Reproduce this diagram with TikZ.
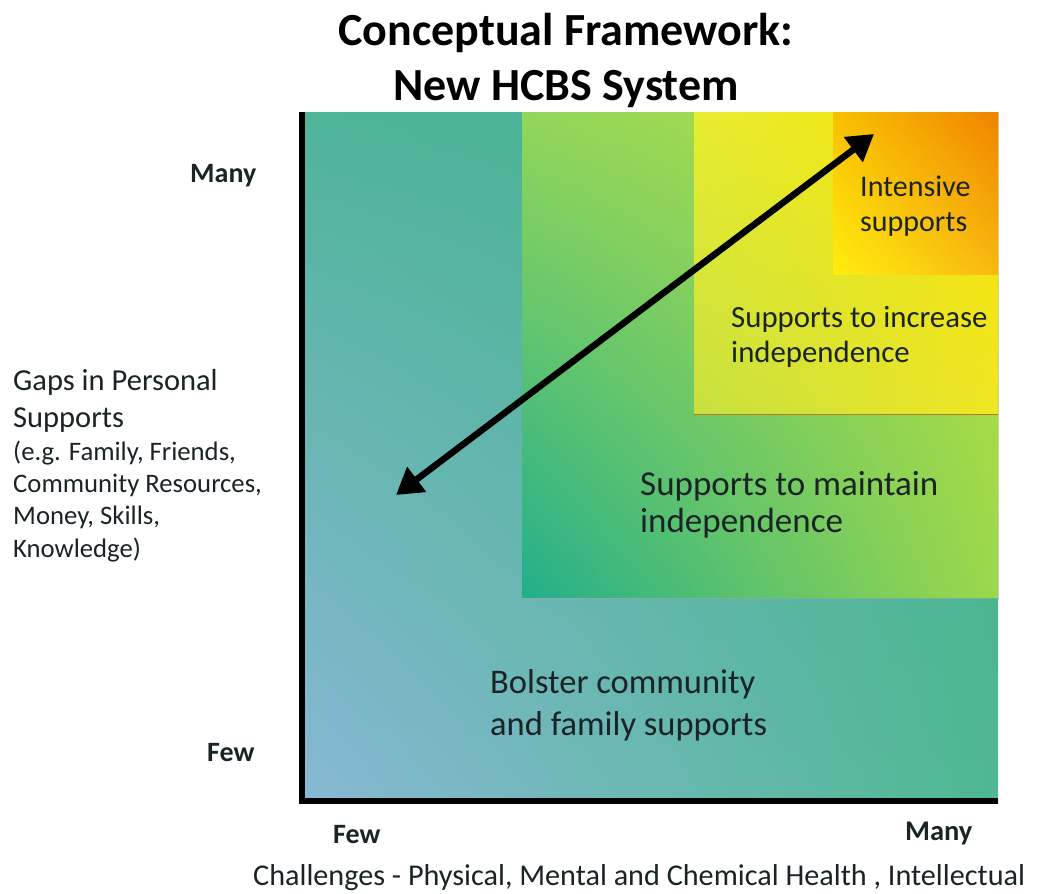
\documentclass[tikz,border=0pt]{standalone}
\usepackage{fontspec}
\setmainfont{Carlito}
\usetikzlibrary{arrows.meta,shadings}
\definecolor{txt}{HTML}{1A2326}
\definecolor{oUL}{HTML}{4FB49A}
\definecolor{oUR}{HTML}{45B08E}
\definecolor{oLL}{HTML}{88B8D4}
\definecolor{oLR}{HTML}{4EB892}
\definecolor{gUL}{HTML}{92D65A}
\definecolor{gUR}{HTML}{B8E040}
\definecolor{gLL}{HTML}{22AE8C}
\definecolor{gLR}{HTML}{9CD84A}
\definecolor{yUL}{HTML}{E8EC30}
\definecolor{yUR}{HTML}{F8E400}
\definecolor{yLL}{HTML}{C6E040}
\definecolor{yLR}{HTML}{F0E624}
\definecolor{rUL}{HTML}{F8C000}
\definecolor{rUR}{HTML}{F08400}
\definecolor{rLL}{HTML}{FFEE10}
\definecolor{rLR}{HTML}{F8B810}
\definecolor{yshadow}{HTML}{B08020}
\tikzset{
  lbl/.style={anchor=base west, inner sep=0pt, text=txt, align=left},
  axis/.style={line width=6pt, black},
  dblarrow/.style={line width=6.5pt, black, {Triangle[length=26pt,width=30pt]}-{Triangle[length=26pt,width=30pt]}},
}
\begin{document}
\begin{tikzpicture}[x=1pt,y=-1pt]
\useasboundingbox (0,0) rectangle (1039,894);
% outer square
\shade[upper left=oUL, upper right=oUR, lower left=oLL, lower right=oLR]
  (303,112) rectangle (998,801);
% maintain
\fill[black!35, opacity=0.5] (523,112) rectangle (999,599);
\shade[upper left=gUL, upper right=gUR, lower left=gLL, lower right=gLR]
  (522,112) rectangle (998,597);
% increase
\fill[yshadow] (694,112) rectangle (998,415);
\shade[upper left=yUL, upper right=yUR, lower left=yLL, lower right=yLR]
  (694,112) rectangle (998,413);
% intensive
\shade[upper left=rUL, upper right=rUR, lower left=rLL, lower right=rLR]
  (833,112) rectangle (998,274);
% axes
\coordinate (origin) at (302,801);
\coordinate (ytop) at (302,112);
\coordinate (xend) at (998,801);
\draw[axis] (ytop) -- (origin) -- (xend);
% arrow
\coordinate (lowend) at (396,495);
\coordinate (highend) at (874,134);
\draw[dblarrow] (lowend) -- (highend);
% title
\node[anchor=base, inner sep=0pt, font=\bfseries\fontsize{46}{55}\selectfont] (t1) at (566,45) {Conceptual Framework:};
\node[anchor=base, inner sep=0pt, font=\bfseries\fontsize{46}{55}\selectfont] (t2) at (566,100) {New HCBS System};
% axis labels
\node[lbl, font=\bfseries\fontsize{28}{33}\selectfont] (ymany) at (190,182) {Many};
\node[lbl, font=\bfseries\fontsize{28}{33}\selectfont] (yfew) at (207,761) {Few};
\node[lbl, font=\bfseries\fontsize{28}{33}\selectfont] (xfew) at (333,843) {Few};
\node[lbl, font=\bfseries\fontsize{28.5}{33}\selectfont] (xmany) at (905,840) {Many};
\node[lbl, font=\fontsize{30.2}{33}\selectfont] (xtitle) at (253,885) {Challenges - Physical, Mental and Chemical Health , Intellectual};
\node[lbl, font=\fontsize{30.5}{37}\selectfont] (ytitle) at (13,427) {Gaps in Personal\\Supports};
\node[lbl, font=\fontsize{26.7}{32.3}\selectfont] (yex) at (13,557) {(e.g. Family, Friends,\\Community Resources,\\Money, Skills,\\Knowledge)};
% region labels
\node[lbl, font=\fontsize{30}{35}\selectfont] (intensive) at (860,231) {Intensive\\supports};
\node[lbl, font=\fontsize{30.8}{35}\selectfont] (increase) at (731,362) {Supports to increase\\independence};
\node[lbl, font=\fontsize{35}{37}\selectfont] (maintain) at (640,532) {Supports to maintain\\independence};
\node[lbl, font=\fontsize{34.5}{42}\selectfont] (bolster) at (490,735) {Bolster community\\and family supports};
\end{tikzpicture}
\end{document}
